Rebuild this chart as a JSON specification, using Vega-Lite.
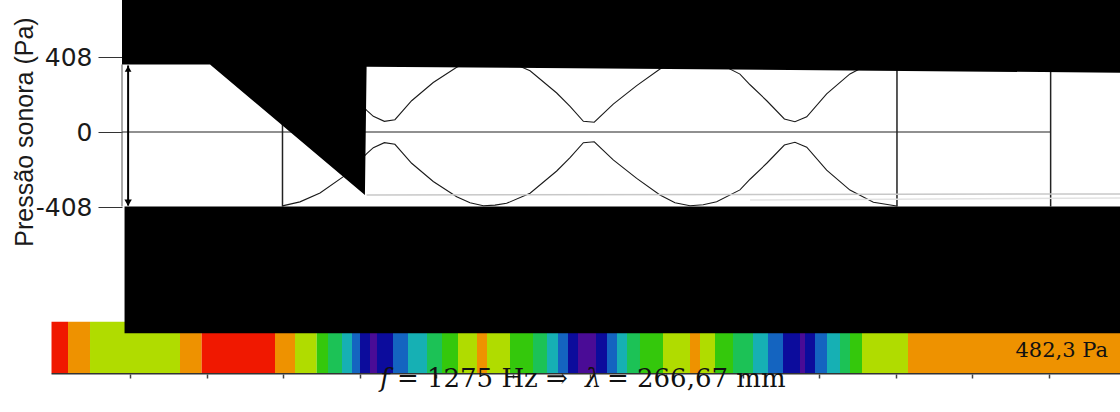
{
  "$schema": "https://vega.github.io/schema/vega-lite/v6.json",
  "width": 998,
  "height": 374,
  "autosize": {"type": "none"},
  "padding": {"left": 122, "top": 0, "right": 0, "bottom": 38},
  "background": "white",
  "config": {"view": {"stroke": null}},
  "data": {"values": [{}]},
  "datasets": {
    "envelope": [
      {"x": 149.6, "sup": 402, "inf": -402},
      {"x": 161.0, "sup": 380, "inf": -380},
      {"x": 174.1, "sup": 332, "inf": -332},
      {"x": 189.1, "sup": 244, "inf": -244},
      {"x": 196.9, "sup": 182, "inf": -182},
      {"x": 204.6, "sup": 118, "inf": -118},
      {"x": 208.9, "sup": 85, "inf": -85},
      {"x": 216.1, "sup": 58, "inf": -58},
      {"x": 223.0, "sup": 67, "inf": -67},
      {"x": 233.9, "sup": 170, "inf": -170},
      {"x": 248.0, "sup": 269, "inf": -269},
      {"x": 263.3, "sup": 352, "inf": -352},
      {"x": 272.0, "sup": 385, "inf": -385},
      {"x": 280.7, "sup": 401, "inf": -401},
      {"x": 288.3, "sup": 398, "inf": -398},
      {"x": 295.9, "sup": 388, "inf": -388},
      {"x": 311.2, "sup": 333, "inf": -333},
      {"x": 328.6, "sup": 212, "inf": -212},
      {"x": 337.3, "sup": 140, "inf": -140},
      {"x": 346.0, "sup": 58, "inf": -58},
      {"x": 353.1, "sup": 53, "inf": -53},
      {"x": 365.5, "sup": 152, "inf": -152},
      {"x": 380.8, "sup": 252, "inf": -252},
      {"x": 396.0, "sup": 343, "inf": -343},
      {"x": 405.8, "sup": 385, "inf": -385},
      {"x": 415.6, "sup": 401, "inf": -401},
      {"x": 424.2, "sup": 396, "inf": -396},
      {"x": 433.0, "sup": 379, "inf": -379},
      {"x": 448.2, "sup": 315, "inf": -315},
      {"x": 454.8, "sup": 257, "inf": -257},
      {"x": 465.7, "sup": 170, "inf": -170},
      {"x": 477.2, "sup": 71, "inf": -71},
      {"x": 484.1, "sup": 56, "inf": -56},
      {"x": 491.8, "sup": 83, "inf": -83},
      {"x": 504.8, "sup": 207, "inf": -207},
      {"x": 520.0, "sup": 316, "inf": -316},
      {"x": 535.3, "sup": 382, "inf": -382},
      {"x": 550.5, "sup": 403, "inf": -403}
    ],
    "faixa": [
      {"ini": -1.17, "fim": 9.60, "nivel": 8},
      {"ini": 9.60, "fim": 23.96, "nivel": 7},
      {"ini": 23.96, "fim": 82.70, "nivel": 6},
      {"ini": 82.70, "fim": 96.87, "nivel": 7},
      {"ini": 96.87, "fim": 144.71, "nivel": 8},
      {"ini": 144.71, "fim": 157.77, "nivel": 7},
      {"ini": 157.77, "fim": 171.93, "nivel": 6},
      {"ini": 171.93, "fim": 179.31, "nivel": 5},
      {"ini": 179.31, "fim": 188.45, "nivel": 4},
      {"ini": 188.45, "fim": 194.97, "nivel": 3},
      {"ini": 194.97, "fim": 200.20, "nivel": 2},
      {"ini": 200.20, "fim": 206.72, "nivel": 1},
      {"ini": 206.72, "fim": 211.29, "nivel": 0},
      {"ini": 211.29, "fim": 221.74, "nivel": 1},
      {"ini": 221.74, "fim": 231.53, "nivel": 2},
      {"ini": 231.53, "fim": 243.93, "nivel": 3},
      {"ini": 243.93, "fim": 253.72, "nivel": 4},
      {"ini": 253.72, "fim": 264.17, "nivel": 5},
      {"ini": 264.17, "fim": 276.57, "nivel": 6},
      {"ini": 276.57, "fim": 283.09, "nivel": 7},
      {"ini": 283.09, "fim": 298.11, "nivel": 6},
      {"ini": 298.11, "fim": 313.12, "nivel": 5},
      {"ini": 313.12, "fim": 322.26, "nivel": 4},
      {"ini": 322.26, "fim": 329.44, "nivel": 3},
      {"ini": 329.44, "fim": 335.97, "nivel": 2},
      {"ini": 335.97, "fim": 342.49, "nivel": 1},
      {"ini": 342.49, "fim": 354.24, "nivel": 0},
      {"ini": 354.24, "fim": 361.42, "nivel": 1},
      {"ini": 361.42, "fim": 367.95, "nivel": 2},
      {"ini": 367.95, "fim": 374.48, "nivel": 3},
      {"ini": 374.48, "fim": 382.96, "nivel": 4},
      {"ini": 382.96, "fim": 397.98, "nivel": 5},
      {"ini": 397.98, "fim": 415.60, "nivel": 6},
      {"ini": 415.60, "fim": 422.13, "nivel": 7},
      {"ini": 422.13, "fim": 431.92, "nivel": 6},
      {"ini": 431.92, "fim": 443.67, "nivel": 5},
      {"ini": 443.67, "fim": 456.72, "nivel": 4},
      {"ini": 456.72, "fim": 466.51, "nivel": 3},
      {"ini": 466.51, "fim": 476.31, "nivel": 2},
      {"ini": 476.31, "fim": 487.40, "nivel": 1},
      {"ini": 487.40, "fim": 490.67, "nivel": 0},
      {"ini": 490.67, "fim": 497.19, "nivel": 1},
      {"ini": 497.19, "fim": 505.03, "nivel": 2},
      {"ini": 505.03, "fim": 513.51, "nivel": 3},
      {"ini": 513.51, "fim": 520.04, "nivel": 4},
      {"ini": 520.04, "fim": 527.87, "nivel": 5},
      {"ini": 527.87, "fim": 557.90, "nivel": 6},
      {"ini": 557.90, "fim": 696.28, "nivel": 7}
    ],
    "tubo_topo": [
      {"x": 44.84, "borda": 367.2},
      {"x": 102.3, "borda": 367.2},
      {"x": 203.4, "borda": -342.7},
      {"x": 204.5, "borda": 355.2},
      {"x": 696.28, "borda": 322.6}
    ],
    "tubo_base": [
      {"x": 46.5, "topo": -405.3, "fundo": -1095},
      {"x": 696.28, "topo": -405.3, "fundo": -1095}
    ],
    "divisorias": [
      {"x": 149.6},
      {"x": 550.7},
      {"x": 651.0}
    ]
  },
  "layer": [
    {
      "data": {"name": "faixa"},
      "mark": {"type": "rect"},
      "encoding": {
        "x": {
          "field": "ini", "type": "quantitative",
          "scale": {"domain": [44.84, 696.28], "nice": false, "zero": false},
          "axis": {
            "values": [0, 50, 100, 150, 200, 250, 300, 350, 400, 450, 500, 550, 600, 650],
            "domain": false, "grid": false, "labels": false,
            "tickSize": 4, "tickColor": "#444", "tickWidth": 1.5, "title": null
          }
        },
        "x2": {"field": "fim"},
        "y": {
          "datum": -1032, "type": "quantitative",
          "scale": {"domain": [-1316.48, 718.08], "nice": false, "zero": false},
          "axis": {
            "values": [-408, 0, 408], "domain": false, "grid": false,
            "tickSize": 24, "tickColor": "#333", "tickWidth": 1,
            "labelFont": "DejaVu Sans", "labelFontSize": 25, "labelColor": "#1a1a1a",
            "labelPadding": 6, "labelBaseline": "middle", "labelFlush": false, "labelOverlap": false,
            "labelExpr": "datum.value < 0 ? '-' + (-datum.value) : '' + datum.value",
            "title": "Pressão sonora (Pa)", "titleFont": "Liberation Sans", "titleFontSize": 25,
            "titleFontWeight": "normal", "titleColor": "#1a1a1a",
            "titleX": -98, "titleY": 131.5, "titleAngle": 270,
            "titleAlign": "center", "titleBaseline": "middle"
          }
        },
        "y2": {"datum": -1312.7},
        "color": {
          "field": "nivel", "type": "ordinal", "legend": null,
          "scale": {
            "domain": [0, 1, 2, 3, 4, 5, 6, 7, 8],
            "range": ["#4a0c96", "#0c0c9c", "#1464c0", "#16b0b4", "#1cc256", "#34c80c", "#b0dc00", "#ee9200", "#f01800"]
          }
        }
      }
    },
    {
      "data": {"name": "envelope"},
      "mark": {"type": "line", "color": "#1a1a1a", "strokeWidth": 1.1},
      "encoding": {
        "x": {"field": "x", "type": "quantitative"},
        "y": {"field": "sup", "type": "quantitative"}
      }
    },
    {
      "data": {"name": "envelope"},
      "mark": {"type": "line", "color": "#1a1a1a", "strokeWidth": 1.1},
      "encoding": {
        "x": {"field": "x", "type": "quantitative"},
        "y": {"field": "inf", "type": "quantitative"}
      }
    },
    {
      "mark": {"type": "rule", "color": "#222", "strokeWidth": 1.2},
      "encoding": {
        "x": {"datum": 44.84, "type": "quantitative"},
        "x2": {"datum": 651.0},
        "y": {"datum": 0, "type": "quantitative"}
      }
    },
    {
      "data": {"name": "divisorias"},
      "mark": {"type": "rule", "color": "#222", "strokeWidth": 1.5},
      "encoding": {
        "x": {"field": "x", "type": "quantitative"},
        "y": {"datum": 360, "type": "quantitative"},
        "y2": {"datum": -405.3}
      }
    },
    {
      "mark": {"type": "rule", "color": "#555", "strokeWidth": 1},
      "encoding": {
        "x": {"datum": 44.84, "type": "quantitative"},
        "y": {"datum": 367.2, "type": "quantitative"},
        "y2": {"datum": -405.3}
      }
    },
    {
      "mark": {"type": "rule", "color": "#c8c8c8", "strokeWidth": 1.5},
      "encoding": {
        "x": {"datum": 204.5, "type": "quantitative"},
        "x2": {"datum": 696.28},
        "y": {"datum": -342.7, "type": "quantitative"},
        "y2": {"datum": -337}
      }
    },
    {
      "mark": {"type": "rule", "color": "#e2e2e2", "strokeWidth": 1.5},
      "encoding": {
        "x": {"datum": 454.8, "type": "quantitative"},
        "x2": {"datum": 696.28},
        "y": {"datum": -370, "type": "quantitative"},
        "y2": {"datum": -359}
      }
    },
    {
      "mark": {"type": "rule", "color": "#333", "strokeWidth": 1.5},
      "encoding": {
        "x": {"datum": -1.17, "type": "quantitative"},
        "x2": {"datum": 696.28},
        "y": {"datum": -1315, "type": "quantitative"}
      }
    },
    {
      "data": {"name": "tubo_topo"},
      "mark": {"type": "area", "color": "black", "opacity": 1},
      "encoding": {
        "x": {"field": "x", "type": "quantitative"},
        "y": {"field": "borda", "type": "quantitative"},
        "y2": {"datum": 718.08}
      }
    },
    {
      "data": {"name": "tubo_base"},
      "mark": {"type": "area", "color": "black", "opacity": 1},
      "encoding": {
        "x": {"field": "x", "type": "quantitative"},
        "y": {"field": "topo", "type": "quantitative"},
        "y2": {"field": "fundo"}
      }
    },
    {
      "mark": {"type": "rule", "color": "black", "strokeWidth": 2},
      "encoding": {
        "x": {"datum": 48.83, "type": "quantitative"},
        "y": {"datum": 362, "type": "quantitative"},
        "y2": {"datum": -400}
      }
    },
    {
      "mark": {"type": "point", "shape": "triangle-up", "size": 45, "filled": true, "color": "black", "opacity": 1},
      "encoding": {
        "x": {"datum": 48.83, "type": "quantitative"},
        "y": {"datum": 343, "type": "quantitative"}
      }
    },
    {
      "mark": {"type": "point", "shape": "triangle-down", "size": 55, "filled": true, "color": "black", "opacity": 1},
      "encoding": {
        "x": {"datum": 48.83, "type": "quantitative"},
        "y": {"datum": -385, "type": "quantitative"}
      }
    },
    {
      "mark": {"type": "text", "font": "DejaVu Serif", "fontSize": 21, "color": "#111", "align": "right", "baseline": "alphabetic"},
      "encoding": {
        "x": {"datum": 688.4, "type": "quantitative"},
        "y": {"datum": -1222.4, "type": "quantitative"},
        "text": {"value": "482,3 Pa"}
      }
    },
    {
      "mark": {"type": "text", "font": "DejaVu Serif", "fontSize": 26, "fontStyle": "italic", "color": "#111", "align": "left", "baseline": "alphabetic"},
      "encoding": {
        "x": {"datum": 213.2, "type": "quantitative"},
        "y": {"datum": -1387.2, "type": "quantitative"},
        "text": {"value": "f"}
      }
    },
    {
      "mark": {"type": "text", "font": "DejaVu Serif", "fontSize": 26, "color": "#111", "align": "left", "baseline": "alphabetic"},
      "encoding": {
        "x": {"datum": 224.3, "type": "quantitative"},
        "y": {"datum": -1387.2, "type": "quantitative"},
        "text": {"value": "= 1275 Hz ⇒"}
      }
    },
    {
      "mark": {"type": "text", "font": "DejaVu Serif", "fontSize": 26, "fontStyle": "italic", "color": "#111", "align": "left", "baseline": "alphabetic"},
      "encoding": {
        "x": {"datum": 347.1, "type": "quantitative"},
        "y": {"datum": -1387.2, "type": "quantitative"},
        "text": {"value": "λ"}
      }
    },
    {
      "mark": {"type": "text", "font": "DejaVu Serif", "fontSize": 26, "color": "#111", "align": "left", "baseline": "alphabetic"},
      "encoding": {
        "x": {"datum": 361.4, "type": "quantitative"},
        "y": {"datum": -1387.2, "type": "quantitative"},
        "text": {"value": "= 266,67 mm"}
      }
    }
  ]
}
